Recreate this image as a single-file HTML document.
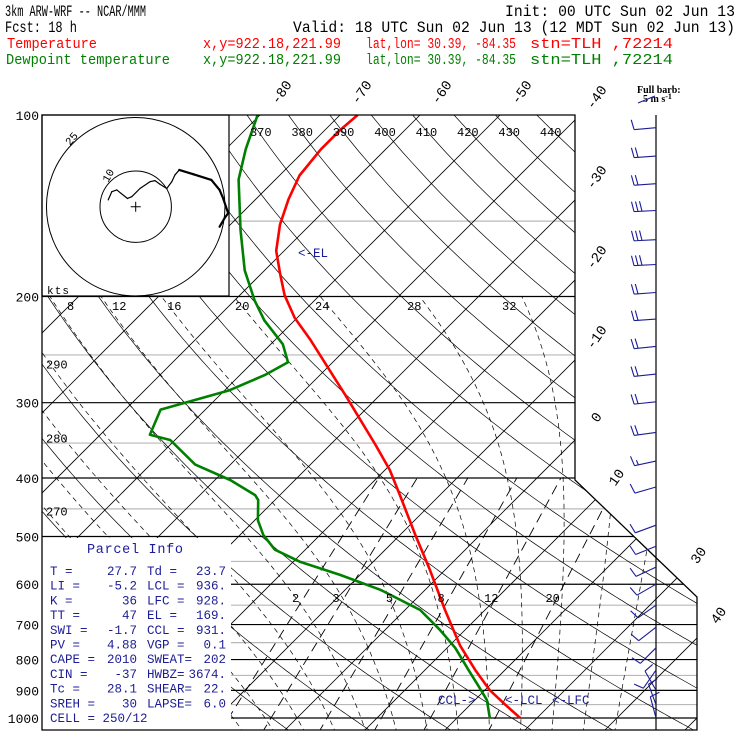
<!DOCTYPE html>
<html><head><meta charset="utf-8"><style>
html,body{margin:0;padding:0;background:#fff;}
svg{display:block;font-family:"Liberation Mono",monospace;}
</style></head><body>
<svg id="chart" width="740" height="740" viewBox="0 0 740 740" xmlns="http://www.w3.org/2000/svg">
<defs><clipPath id="plotclip"><path d="M42,115 L575,115 L575,480 L697,597 L697,730 L42,730 Z"/></clipPath></defs>
<g id="header" font-size="16">
<text x="5" y="16" textLength="141" lengthAdjust="spacingAndGlyphs">3km ARW-WRF -- NCAR/MMM</text>
<text x="505" y="16" textLength="230" lengthAdjust="spacingAndGlyphs">Init: 00 UTC Sun 02 Jun 13</text>
<text x="5" y="32" textLength="72" lengthAdjust="spacingAndGlyphs">Fcst:   18 h</text>
<text x="293" y="32" textLength="442" lengthAdjust="spacingAndGlyphs">Valid: 18 UTC Sun 02 Jun 13 (12 MDT Sun 02 Jun 13)</text>
<g fill="#ff0000" font-size="15">
<text x="7" y="48" textLength="90" lengthAdjust="spacingAndGlyphs">Temperature</text>
<text x="203" y="48" textLength="138" lengthAdjust="spacingAndGlyphs">x,y=922.18,221.99</text>
<text x="366" y="48" textLength="150" lengthAdjust="spacingAndGlyphs">lat,lon= 30.39, -84.35</text>
<text x="530" y="48" textLength="143" lengthAdjust="spacingAndGlyphs">stn=TLH ,72214</text>
</g>
<g fill="#008000" font-size="15">
<text x="6" y="64" textLength="164" lengthAdjust="spacingAndGlyphs">Dewpoint temperature</text>
<text x="203" y="64" textLength="138" lengthAdjust="spacingAndGlyphs">x,y=922.18,221.99</text>
<text x="366" y="64" textLength="150" lengthAdjust="spacingAndGlyphs">lat,lon= 30.39, -84.35</text>
<text x="530" y="64" textLength="143" lengthAdjust="spacingAndGlyphs">stn=TLH ,72214</text>
</g>
</g>
<g id="grid" clip-path="url(#plotclip)"></g>
<g id="boxes"></g>
<g id="traces" clip-path="url(#plotclip)"></g>
<g id="frame"></g>
<g id="labels" font-size="12"></g>
<g id="barbs"></g>
</svg>
<script>
// ---------- data ----------
const pressureTicks = [100,200,300,400,500,600,700,800,900,1000];
const halfPressure = [150,250,350,450,550,650,750,850,950];
const tempP = [1000,951,899,833,758,662,568,497,427,388,352,320,291,265,236,217,199,184,168,152,138,126,114,106,100];
const tempT = [27.9,24.4,20.6,16.3,11.3,5.0,-1.9,-8.1,-15.0,-19.4,-24.4,-29.4,-34.4,-39.4,-45.6,-50.3,-54.4,-57.5,-61.0,-63.8,-65.9,-67.5,-68.1,-68.1,-67.8];
const dewP = [1000,934,882,832,765,715,662,613,579,551,526,497,470,435,427,403,380,346,339,308,286,270,257,240,219,203,181,155,128,114,100];
const dewT = [24.1,21.5,18.5,15.4,11.0,6.9,1.9,-5.6,-12.5,-19.1,-23.8,-27.1,-29.6,-32.1,-33.1,-38.1,-44.4,-50.6,-53.8,-55.6,-49.4,-46.9,-45.6,-48.5,-53.8,-57.5,-62.5,-68.1,-74.6,-77.5,-80.3];
const hodoU = [-7.7,-6.7,-5.3,-2.3,-1.1,1.2,4.0,5.4,6.8,8.7,10.1,11.0,12.2,16.1,21.2,23.5,24.5,25.9,24.9,23.5];
const hodoV = [1.9,4.2,4.7,2.3,2.8,5.1,7.0,7.3,6.3,5.1,7.0,8.9,10.3,9.1,7.5,4.7,2.3,-1.8,-3.2,-5.6];
const barbP = [105,117,130,144,161,177,197,218,242,269,299,336,375,414,479,519,562,600,650,707,765,833,899,951,1000];
const barbDir = [265,266,266,267,267,267,266,266,264,264,264,262,258,254,250,248,245,240,235,232,225,215,330,340,345];
const barbSpd = [5,10,10,15,15,15,10,10,10,10,10,10,7.5,5,5,5,5,5,5,5,5,5,5,5,5];
const isoLabels = [-80,-70,-60,-50,-40,-30,-20,-10,0,10,30,40];
const thetaTop = [370,380,390,400,410,420,430,440];
const thetaLeft = [290,280,270];
const mixRatios = [2,3,5,8,12,20];
const moistLabels = [8,12,16,20,24,28,32];

// ---------- axes ----------
const Y = p => 718 - 261.9*Math.log(1000/p);
const X = (T,p) => 297 + 8*T + 261.9*Math.log(1000/p);
const NS = "http://www.w3.org/2000/svg";
function mk(tag, attrs, parent){const e=document.createElementNS(NS,tag);for(const k in attrs)e.setAttribute(k,attrs[k]);parent.appendChild(e);return e;}
const grid=document.getElementById('grid'), boxes=document.getElementById('boxes'), traces=document.getElementById('traces'),
 frame=document.getElementById('frame'), labels=document.getElementById('labels'), barbs=document.getElementById('barbs');

halfPressure.forEach(p=>{const l=mk('line',{x1:42,x2:700,y1:Y(p),y2:Y(p),stroke:'#b8b8b8','stroke-width':1.2},grid);

});
pressureTicks.forEach(p=>{const l=mk('line',{x1:42,x2:700,y1:Y(p),y2:Y(p),stroke:'#000','stroke-width':1.2},grid);

});
for(let T=-160;T<=50;T+=10){const l=mk('line',{x1:X(T,1060),y1:Y(1060),x2:X(T,95),y2:Y(95),stroke:'#000','stroke-width':0.8},grid);

}
for(let th=230;th<=480;th+=10){let d='';for(let p=1060;p>=95;p-=5){const T=th*Math.pow(p/1000,0.286)-273.15;d+=(d?'L':'M')+X(T,p).toFixed(1)+','+Y(p).toFixed(1);}
const l=mk('path',{d:d,fill:'none',stroke:'#000','stroke-width':0.7},grid);

}
function es(T){return 6.112*Math.exp(17.67*(T-273.15)/(T-29.65));}
for(let tw=-8;tw<=40;tw+=4){let T=tw+273.15,p=1000,pts=[];
 let Tb=T; for(let q=1000;q<1060;q+=5){const e=es(Tb),rs=0.622*e/(q-e);const g=(287*Tb+2.5e6*rs)/(q*(1005+2.5e6*2.5e6*rs*0.622/(287*Tb*Tb)));Tb+=g*5;}
 pts.push([Tb-273.15,1060]);
 while(p>=200){pts.push([T-273.15,p]);const e=es(T),rs=0.622*e/(p-e);const g=(287*T+2.5e6*rs)/(p*(1005+2.5e6*2.5e6*rs*0.622/(287*T*T)));T-=g*5;p-=5;}
 const d=pts.map((a,i)=>(i?'L':'M')+X(a[0],a[1]).toFixed(1)+','+Y(a[1]).toFixed(1)).join('');
 const l=mk('path',{d:d,fill:'none',stroke:'#000','stroke-width':0.7,'stroke-dasharray':'5,4'},grid);
 
 }
function tdw(w,p){const e=w*p/(622+w);const L=Math.log(e/6.112);return 243.5*L/(17.67-L);}
mixRatios.forEach(w=>{const l=mk('line',{x1:X(tdw(w,1060),1060),y1:Y(1060),x2:X(tdw(w,400),400),y2:Y(400),stroke:'#000','stroke-width':0.9,'stroke-dasharray':'10,6'},grid);


const t=mk('text',{x:X(tdw(w,650),650)-6,y:Y(650)-3,'font-size':12},labels);t.textContent=w;

});

const hb=mk('rect',{x:42,y:115,width:187,height:181,fill:'#fff',stroke:'#000','stroke-width':1.2},boxes);


const pb=mk('rect',{x:42,y:538,width:189,height:192,fill:'#fff'},boxes);


const hc={x:135.7,y:206.7},hs=3.57;
[10,25].forEach(r=>{const c=mk('circle',{cx:hc.x,cy:hc.y,r:r*hs,fill:'none',stroke:'#000','stroke-width':1},boxes);

});
const cross=mk('path',{d:`M${hc.x-5},${hc.y}H${hc.x+5}M${hc.x},${hc.y-5}V${hc.y+5}`,stroke:'#000','stroke-width':1},boxes);


for(let i=1;i<hodoU.length;i++){const s=mk('line',{x1:hc.x+hodoU[i-1]*hs,y1:hc.y-hodoV[i-1]*hs,x2:hc.x+hodoU[i]*hs,y2:hc.y-hodoV[i]*hs,stroke:'#000','stroke-width':i>12?2.2:1.2,'stroke-linecap':'round'},boxes);

}
[['10',108,183,-60],['25',70,146,-50]].forEach(a=>{const t=mk('text',{x:a[1],y:a[2],'font-size':11,transform:`rotate(${a[3]} ${a[1]} ${a[2]})`},boxes);t.textContent=a[0];

});
const kts=mk('text',{x:47,y:294,'font-size':11,textLength:22},boxes);kts.textContent='kts';



function trace(P,T,color,name){const d=P.map((p,i)=>(i?'L':'M')+X(T[i],p).toFixed(1)+','+Y(p).toFixed(1)).join('');
const l=mk('path',{d:d,fill:'none',stroke:color,'stroke-width':2.6,'stroke-linejoin':'round'},traces);

}
trace(tempP,tempT,'#ff0000','temperature-trace');
trace(dewP,dewT,'#008000','dewpoint-trace');

const fr=mk('path',{d:'M42,115 L575,115 L575,480 L697,597 L697,730 L42,730 Z',fill:'none',stroke:'#000','stroke-width':1.3},frame);



pressureTicks.forEach(p=>{const t=mk('text',{x:39,y:Y(p)+5,'text-anchor':'end','font-size':13},labels);t.textContent=p;

});
// isotherm labels: at intersection with top/right boundary
function boundX(yy){return yy<=480?575:Math.min(697,575+(yy-480)*122/117);}
isoLabels.forEach(T=>{let x,y;
 const xt=X(T,100);
 if(xt<=575){x=xt;y=115;}
 else{for(let yy=115;yy<=730;yy+=0.5){const p=1000*Math.exp(-(718-yy)/261.9);const xx=X(T,p);const xb=boundX(yy);if(xx<=xb){y=yy;x=xx;break;}}}
 const cx=x+21,cy=y-23;
 const t=mk('text',{x:cx,y:cy+5,'text-anchor':'middle','font-size':14,transform:`rotate(-55 ${cx} ${cy})`},labels);t.textContent=T;
 
 });
thetaTop.forEach(th=>{const T=th*Math.pow(0.1,0.286)-273.15;const x=X(T,100)+3;const t=mk('text',{x:x,y:136,'font-size':12},labels);t.textContent=th;

});
thetaLeft.forEach(th=>{let yy=null;for(let y=296;y<=730;y+=0.5){const p=1000*Math.exp(-(718-y)/261.9);const T=th*Math.pow(p/1000,0.286)-273.15;if(X(T,p)>=42){yy=y;break;}}
const t=mk('text',{x:46,y:yy+4,'font-size':12},labels);t.textContent=th;

});
const moistX=[67,112,167,235,315,407,502];
moistLabels.forEach((v,i)=>{const t=mk('text',{x:moistX[i],y:310,'font-size':12},labels);t.textContent=v;

});
</script>
<script>
(function(){
const NS="http://www.w3.org/2000/svg";const svg=document.getElementById('chart');
const g=document.createElementNS(NS,'g');g.setAttribute('fill','#1c1c96');g.setAttribute('font-size','12.5');svg.appendChild(g);


function tx(s,x,y,anchor){const t=document.createElementNS(NS,'text');t.setAttribute('x',x);t.setAttribute('y',y);if(anchor)t.setAttribute('text-anchor',anchor);t.textContent=s;g.appendChild(t);return t;}
const h=tx('Parcel Info',87,553);h.setAttribute('font-size','13.5');h.setAttribute('textLength','96');
const rows=[['T  =','27.7','Td =','23.7'],['LI =','-5.2','LCL =','936.'],['K  =','36','LFC =','928.'],['TT =','47','EL  =','169.'],['SWI =','-1.7','CCL =','931.'],['PV =','4.88','VGP =','0.1'],['CAPE =','2010','SWEAT=','202'],['CIN =','-37','HWBZ=','3674.'],['Tc =','28.1','SHEAR=','22.'],['SREH =','30','LAPSE=','6.0']];
rows.forEach((r,i)=>{const y=575+i*14.7;tx(r[0],50,y);tx(r[1],137,y,'end');tx(r[2],147,y);tx(r[3],226,y,'end');});
tx('CELL = 250/12',50,575+10*14.7);
const ann=[['<-EL',298,257],['CCL->',438,704],['<-LCL',505,704],['<-LFC',552,704]];
ann.forEach(a=>{const t=tx(a[0],a[1],a[2]);});
const lg=document.createElementNS(NS,'g');svg.appendChild(lg);


lg.innerHTML='<text x="637" y="93" font-family="Liberation Serif,serif" font-weight="bold" font-size="10">Full barb:</text><text x="643" y="102" font-family="Liberation Serif,serif" font-weight="bold" font-size="10">5 m s<tspan dy="-3" font-size="8">-1</tspan></text><line x1="638" y1="103" x2="655" y2="96" stroke="#1c1c96"/>';
})();
(function(){
const NS="http://www.w3.org/2000/svg";const bg=document.getElementById('barbs');
const st=document.createElementNS(NS,'line');st.setAttribute('x1',656);st.setAttribute('x2',656);st.setAttribute('y1',115);st.setAttribute('y2',730);st.setAttribute('stroke','#000');st.setAttribute('stroke-width','1.2');bg.appendChild(st);


const Y=p=>718-261.9*Math.log(1000/p);
barbP.forEach((p,i)=>{const y=Y(p),a=barbDir[i]*Math.PI/180;
 const ux=Math.sin(a),uy=-Math.cos(a);
 const L=22; const tx=656+ux*L,ty=y+uy*L;
 const fx=-uy,fy=ux;
 let d=`M656,${y.toFixed(1)}L${tx.toFixed(1)},${ty.toFixed(1)}`;
 let s=barbSpd[i],k=0;
 while(s>=4.9){const bx=tx-ux*k*4,by=ty-uy*k*4;d+=`M${bx.toFixed(1)},${by.toFixed(1)}l${(fx*10+ux*2).toFixed(1)},${(fy*10+uy*2).toFixed(1)}`;s-=5;k++;}
 if(s>=2.4){const bx=tx-ux*k*4,by=ty-uy*k*4;d+=`M${bx.toFixed(1)},${by.toFixed(1)}l${(fx*5+ux*1).toFixed(1)},${(fy*5+uy*1).toFixed(1)}`;}
 const pth=document.createElementNS(NS,'path');pth.setAttribute('d',d);pth.setAttribute('fill','none');pth.setAttribute('stroke','#1c1c96');pth.setAttribute('stroke-width','1.1');bg.appendChild(pth);
 
 });
})();
</script>
</body></html>
